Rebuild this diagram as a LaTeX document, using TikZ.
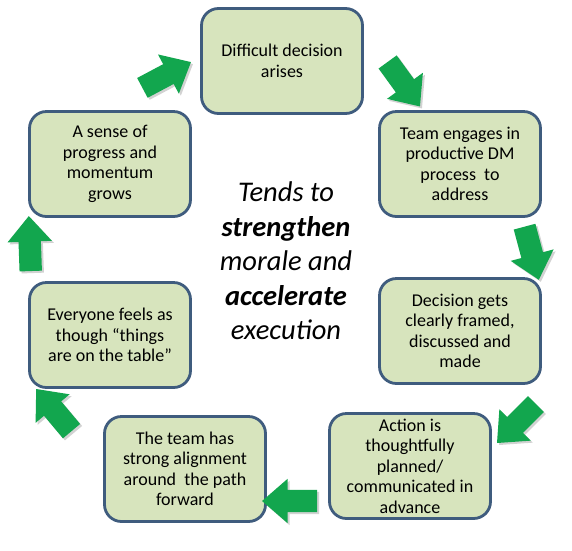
\documentclass[tikz,border=0pt]{standalone}
\usepackage{fontspec}
\setmainfont{Carlito}
\usetikzlibrary{shapes.arrows,shadows}
\definecolor{BoxFill}{HTML}{D7E4BD}
\definecolor{BoxLine}{HTML}{3F5C7E}
\definecolor{TurnGreen}{HTML}{12A64E}

\begin{document}
\begin{tikzpicture}[x=1pt,y=-1pt,
  stepbox/.style={draw=BoxLine,line width=2.8pt,fill=BoxFill,rounded corners=17pt,
    minimum width=161pt,minimum height=105pt,align=center,inner sep=2pt,
    font=\fontsize{18}{20.5}\selectfont,
    drop shadow={shadow xshift=1pt,shadow yshift=-1pt,opacity=.25}},
  turn/.style={single arrow,fill=TurnGreen,draw=none,minimum height=55pt,
    inner xsep=0pt,inner ysep=11pt,text height=0pt,text depth=0pt,
    single arrow head extend=11pt,single arrow tip angle=82,
    drop shadow={shadow xshift=2pt,shadow yshift=-2pt,opacity=.35}}]
  \useasboundingbox[fill=white] (0,0) rectangle (572,550);

  % the cycle
  \node[stepbox] (arise) at (282,61) {Difficult decision\\arises};
  \node[stepbox] (engage) at (460,164) {Team engages in\\productive DM\\process\ \ to\\address};
  \node[stepbox] (frame) at (460,331) {Decision gets\\clearly framed,\\discussed and\\made};
  \node[stepbox] (plan) at (410,466) {Action is\\thoughtfully\\planned/\\communicated in\\advance};
  \node[stepbox] (align) at (185,469) {The team has\\strong alignment\\around\ \ the path\\forward};
  \node[stepbox] (table) at (110,335) {Everyone feels as\\though “things\\are on the table”};
  \node[stepbox] (momentum) at (110,164) {A sense of\\progress and\\momentum\\grows};

  % centre message
  \node[align=center,font=\fontsize{28.5}{34.5}\selectfont\itshape] (msg) at (286,261)
    {Tends to\\\textbf{strengthen}\\morale and\\\textbf{accelerate}\\execution};

  % green turn arrows
  \node[turn,rotate=28] (t1) at (161,78) {};
  \node[turn,rotate=-54] (t2) at (400,79) {};
  \node[turn,rotate=-75] (t3) at (530,247) {};
  \node[turn,rotate=-135] (t4) at (521,419) {};
  \node[turn,rotate=180] (t5) at (296,501) {};
  \node[turn,rotate=130] (t6) at (58,415) {};
  \node[turn,rotate=92] (t7) at (30,250) {};
\end{tikzpicture}
\end{document}
